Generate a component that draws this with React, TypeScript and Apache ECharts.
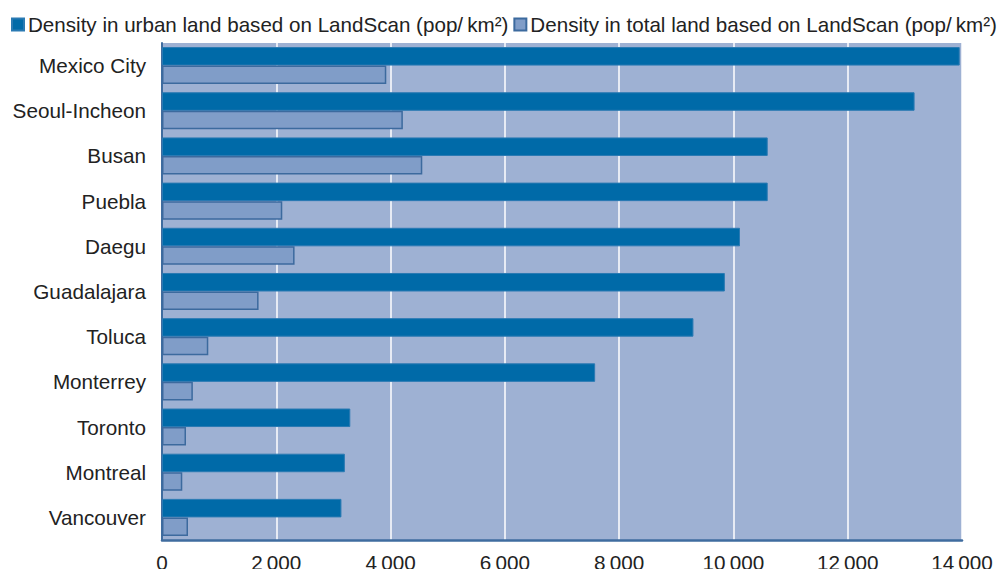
import React, { useEffect, useRef } from "react";
import * as echarts from "echarts";

const cities = [
  "Mexico City",
  "Seoul-Incheon",
  "Busan",
  "Puebla",
  "Daegu",
  "Guadalajara",
  "Toluca",
  "Monterrey",
  "Toronto",
  "Montreal",
  "Vancouver",
];

const urbanDensity = [13960, 13170, 10600, 10600, 10115, 9850, 9300, 7580, 3295, 3200, 3140];
const totalDensity = [3925, 4215, 4555, 2105, 2320, 1690, 810, 540, 420, 355, 455];

const urbanName = "Density in urban land based on LandScan (pop/\u2009km\u00b2)";
const totalName = "Density in total land based on LandScan (pop/\u2009km\u00b2)";

const FONT = "'Liberation Sans', Arial, sans-serif";
const FONT_SIZE = 20.7;

const formatThousands = (v: number) =>
  String(v).replace(/\B(?=(\d{3})+(?!\d))/g, "\u2009");

export default function App() {
  const ref = useRef<HTMLDivElement>(null);

  useEffect(() => {
    if (!ref.current) return;
    const chart = echarts.init(ref.current, undefined, { renderer: "svg" });
    chart.setOption({
      animation: false,
      textStyle: { fontFamily: FONT },
      legend: {
        left: 6,
        top: 9,
        width: 1000,
        itemWidth: 12,
        itemHeight: 12,
        itemGap: 5,
        textStyle: { fontSize: 20.6, color: "#222", fontFamily: FONT, padding: [0, 0, 0, -1] },
        data: [
          { name: urbanName, icon: "rect" },
          { name: totalName, icon: "rect" },
        ],
      },
      grid: {
        left: 162,
        right: 45,
        top: 43,
        bottom: 37,
        show: true,
        backgroundColor: "#9eb1d3",
        borderWidth: 0,
      },
      xAxis: {
        type: "value",
        min: 0,
        max: 14000,
        interval: 2000,
        axisLine: { show: true, lineStyle: { color: "#3f6c9f", width: 2.5 } },
        axisTick: { show: false },
        splitLine: { show: true, lineStyle: { color: "#ffffff", width: 1.5 } },
        axisLabel: {
          fontSize: FONT_SIZE,
          color: "#222",
          margin: 12,
          formatter: (v: number) => formatThousands(v),
        },
      },
      yAxis: {
        type: "category",
        inverse: true,
        data: cities,
        axisLine: { show: true, lineStyle: { color: "#3f6c9f", width: 2 } },
        axisTick: { show: false },
        axisLabel: { fontSize: FONT_SIZE, color: "#222", margin: 16 },
      },
      series: [
        {
          name: urbanName,
          type: "bar",
          data: urbanDensity,
          barGap: "0%",
          barCategoryGap: "18%",
          itemStyle: { color: "#006aa8", borderColor: "#2a7ab3", borderWidth: 1 },
        },
        {
          name: totalName,
          type: "bar",
          data: totalDensity,
          barGap: "0%",
          barCategoryGap: "18%",
          itemStyle: { color: "#809dc8", borderColor: "#3c6a9e", borderWidth: 1.5 },
        },
      ],
    });
    return () => chart.dispose();
  }, []);

  return <div ref={ref} style={{ width: 1007, height: 577, margin: -8 }} />;
}
